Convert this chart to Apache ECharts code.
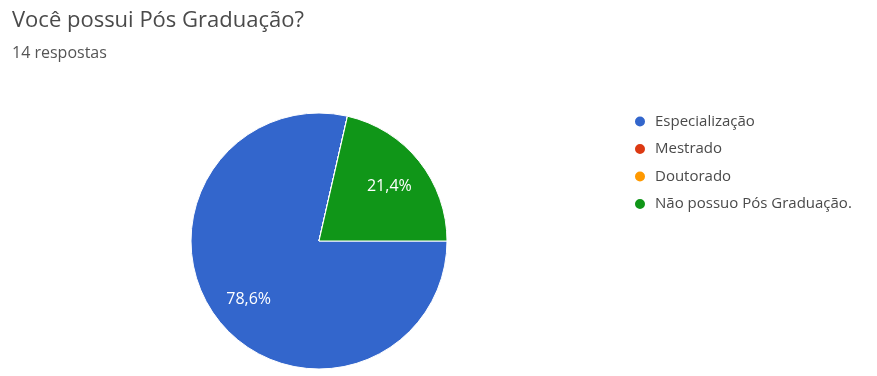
<!DOCTYPE html>
<html>
<head>
<meta charset="utf-8">
<script src="https://cdn.jsdelivr.net/npm/echarts@6/dist/echarts.min.js"></script>
<style>
html,body{margin:0;padding:0;background:#fff;}
#chart{width:877px;height:376px;}
</style>
</head>
<body>
<div id="chart"></div>
<script>
const titleText = 'Você possui Pós Graduação?';
const subtitleText = '14 respostas';
const categories = ['Especialização', 'Mestrado', 'Doutorado', 'Não possuo Pós Graduação.'];
const counts = [11, 0, 0, 3];
const colors = ['#3366cc', '#dc3912', '#ff9900', '#109618'];

const data = categories.map((name, i) => ({ name: name, value: counts[i], itemStyle: { color: colors[i] } }));
const overlayData = categories.map((name, i) => ({ name: name, value: counts[i], itemStyle: { color: 'rgba(0,0,0,0)' } }));

const FONT = '"Open Sans", Roboto, sans-serif';
const chart = echarts.init(document.getElementById('chart'), null, { renderer: 'canvas' });
const fmt = p => p.value ? p.percent.toFixed(1).replace('.', ',') + '%' : '';
chart.setOption({
  animation: false,
  backgroundColor: '#fff',
  title: {
    text: titleText,
    subtext: subtitleText,
    left: 12,
    top: 10,
    padding: 0,
    itemGap: 13,
    textStyle: { fontFamily: FONT, fontSize: 22, fontWeight: 'normal', color: '#4a4a4a' },
    subtextStyle: { fontFamily: FONT, fontSize: 16, color: '#555' }
  },
  legend: {
    orient: 'vertical',
    left: 633,
    top: 114,
    padding: 0,
    itemGap: 12.5,
    itemWidth: 20,
    itemHeight: 12,
    icon: 'circle',
    textStyle: { fontFamily: FONT, fontSize: 15, color: '#4a4a4a' },
    data: categories
  },
  series: [
    {
      type: 'pie',
      center: [319, 241],
      radius: [0, 128],
      startAngle: 0,
      clockwise: true,
      avoidLabelOverlap: false,
      label: { show: false },
      labelLine: { show: false },
      itemStyle: { borderColor: '#fff', borderWidth: 1 },
      emphasis: { disabled: true },
      data: data
    },
    {
      type: 'pie',
      center: [319, 243],
      radius: [46, 128],
      startAngle: 0,
      clockwise: true,
      silent: true,
      avoidLabelOverlap: false,
      percentPrecision: 1,
      label: {
        show: true,
        position: 'inside',
        formatter: fmt,
        color: '#fff',
        fontFamily: FONT,
        fontSize: 16
      },
      labelLine: { show: false },
      emphasis: { disabled: true },
      data: overlayData
    }
  ]
});
</script>
</body>
</html>
